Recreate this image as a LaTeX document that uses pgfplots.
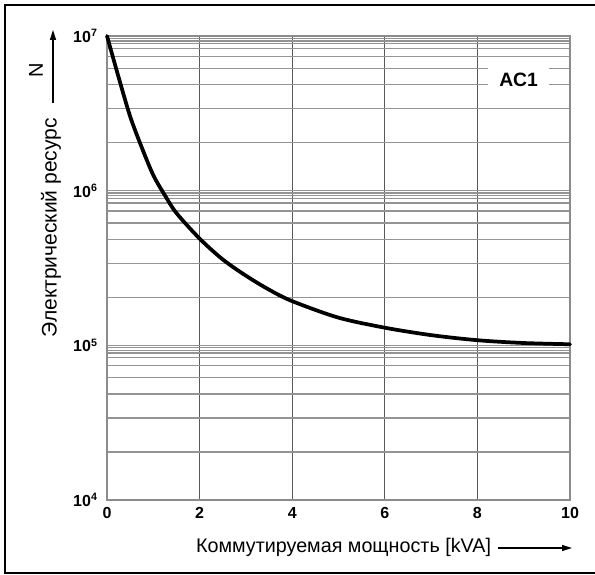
\documentclass[border=0pt]{standalone}
\usepackage{fontspec}
\setmainfont{Liberation Sans}
\usepackage{pgfplots}
\pgfplotsset{compat=1.18}
\usetikzlibrary{arrows.meta}

\begin{document}
\begin{tikzpicture}
\useasboundingbox (-80.25pt,-55.5pt) rectangle (366pt,375pt);
\begin{axis}[
  scale only axis,
  width=347.25pt, height=348pt,
  ymode=log,
  xmin=0, xmax=10, ymin=1e4, ymax=1e7,
  xtick={0,2,4,6,8,10},
  ytick={1e4,1e5,1e6,1e7},
  yticklabels={10\textsuperscript{4},10\textsuperscript{5},10\textsuperscript{6},10\textsuperscript{7}},
  minor ytick={2.04e4,3.39e4,4.84e4,6.17e4,7.38e4,8.32e4,8.91e4,9.29e4,9.66e4,
               2.04e5,3.39e5,4.84e5,6.17e5,7.38e5,8.32e5,8.91e5,9.29e5,9.66e5,
               2.04e6,3.39e6,4.84e6,6.17e6,7.38e6,8.32e6,8.91e6,9.29e6,9.66e6},
  xmajorgrids, ymajorgrids, yminorgrids,
  x grid style={black!65, line width=0.7pt},
  y grid style={black!42, line width=1pt},
  major tick length=0pt, minor tick length=0pt,
  axis line style={black!45, line width=1pt},
  /pgf/number format/assume math mode=true,
  ticklabel style={font=\bfseries\fontsize{12}{14}\selectfont},
  xticklabel style={yshift=-2pt},
  yticklabel style={xshift=-3.5pt},
  xlabel={Коммутируемая мощность [kVA]},
  xlabel style={at={(axis description cs:0.5108,-0.1013)}, anchor=center,
                font=\fontsize{14.8}{17}\selectfont},
  ylabel={Электрический ресурс},
  ylabel style={at={(axis description cs:-0.1209,0.587)}, anchor=center,
                font=\fontsize{15.8}{18}\selectfont},
  clip=false,
]
\addplot[black, line width=2.8pt, line cap=round, smooth] coordinates {
  (0,1e7) (0.25,5.42e6) (0.5,3.02e6) (0.75,1.905e6) (1.0,1.259e6)
  (1.25,9.33e5) (1.5,7.16e5) (2.0,4.90e5) (2.5,3.59e5) (3.0,2.82e5)
  (3.5,2.29e5) (4.0,1.93e5) (5.0,1.51e5) (6.0,1.30e5) (7.0,1.164e5)
  (8.0,1.079e5) (9.0,1.035e5) (10,1.016e5)
};
\node[fill=white, inner xsep=8.25pt, inner ysep=6pt,
      font=\bfseries\fontsize{14.5}{16}\selectfont] at (axis cs:8.89,5.24e6) {AC1};
\node[rotate=90, font=\fontsize{15}{17}\selectfont] at (axis description cs:-0.1533,0.9267) {N};
\end{axis}
\draw[line width=1.1pt, -{Triangle[length=7.5pt, width=4.5pt]}] (-40.5pt,297.75pt) -- (-40.5pt,352.5pt);
\draw[line width=1.1pt, -{Triangle[length=7.5pt, width=4.5pt]}] (293.25pt,-36pt) -- (348.75pt,-36pt);
\draw[line width=1.1pt] (370pt,371.25pt) -- (-76.5pt,371.25pt) -- (-76.5pt,-54.75pt) -- (370pt,-54.75pt);
\end{tikzpicture}
\end{document}
